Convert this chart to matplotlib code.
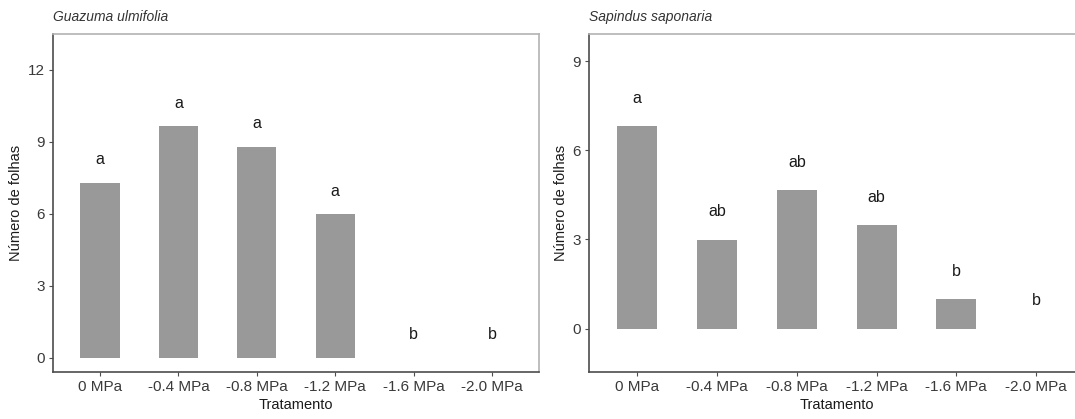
import matplotlib.pyplot as plt
import numpy as np

plt.rcParams["font.family"] = ["Liberation Sans", "DejaVu Sans"]

# Data
tratamentos = ["0 MPa", "-0.4 MPa", "-0.8 MPa", "-1.2 MPa", "-1.6 MPa", "-2.0 MPa"]
guazuma_folhas = [7.3, 9.65, 8.8, 5.97, 0.0, 0.0]
guazuma_letras = ["a", "a", "a", "a", "b", "b"]
sapindus_folhas = [6.8, 2.98, 4.65, 3.47, 0.98, 0.0]
sapindus_letras = ["a", "ab", "ab", "ab", "b", "b"]

bar_color = "#999999"
dark = "#4d4d4d"
light = "#b3b3b3"

fig = plt.figure(figsize=(10.75, 4.19), dpi=100)
ax1 = fig.add_axes([0.0493, 0.1122, 0.4521, 0.8067])
ax2 = fig.add_axes([0.5482, 0.1122, 0.4602, 0.8067])

panels = [
    (ax1, guazuma_folhas, guazuma_letras, "Guazuma ulmifolia", (-0.6, 13.5), [0, 3, 6, 9, 12]),
    (ax2, sapindus_folhas, sapindus_letras, "Sapindus saponaria", (-1.46, 9.91), [0, 3, 6, 9]),
]

x = np.arange(len(tratamentos))
for ax, vals, letras, titulo, ylim, yticks in panels:
    ax.bar(x, vals, width=0.5, color=bar_color, edgecolor="none")
    # significance letters above each bar
    for xi, v, l in zip(x, vals, letras):
        ax.text(xi, v + 0.95, l, ha="center", va="center", fontsize=11.5, color="#1a1a1a")
    ax.set_xlim(-0.6, 5.6)
    ax.set_ylim(*ylim)
    ax.set_xticks(x)
    ax.set_xticklabels(tratamentos)
    ax.set_yticks(yticks)
    ax.tick_params(axis="both", length=3, width=0.8, colors=dark, labelsize=11,
                   labelcolor="#3a3a3a", pad=3)
    ax.set_xlabel("Tratamento", fontsize=10.5, color="#1a1a1a", labelpad=3)
    ax.set_ylabel("Número de folhas", fontsize=10.5, color="#1a1a1a", labelpad=3)
    ax.set_title(titulo, loc="left", style="italic", fontsize=10, color="#333333", pad=9)
    ax.spines["left"].set_color(dark)
    ax.spines["bottom"].set_color(dark)
    ax.spines["left"].set_linewidth(1.2)
    ax.spines["bottom"].set_linewidth(1.2)
    ax.spines["top"].set_color(light)
    ax.spines["right"].set_color(light)
    ax.spines["top"].set_linewidth(1.2)
    ax.spines["right"].set_linewidth(1.2)

fig.savefig("out.png", dpi=100)
